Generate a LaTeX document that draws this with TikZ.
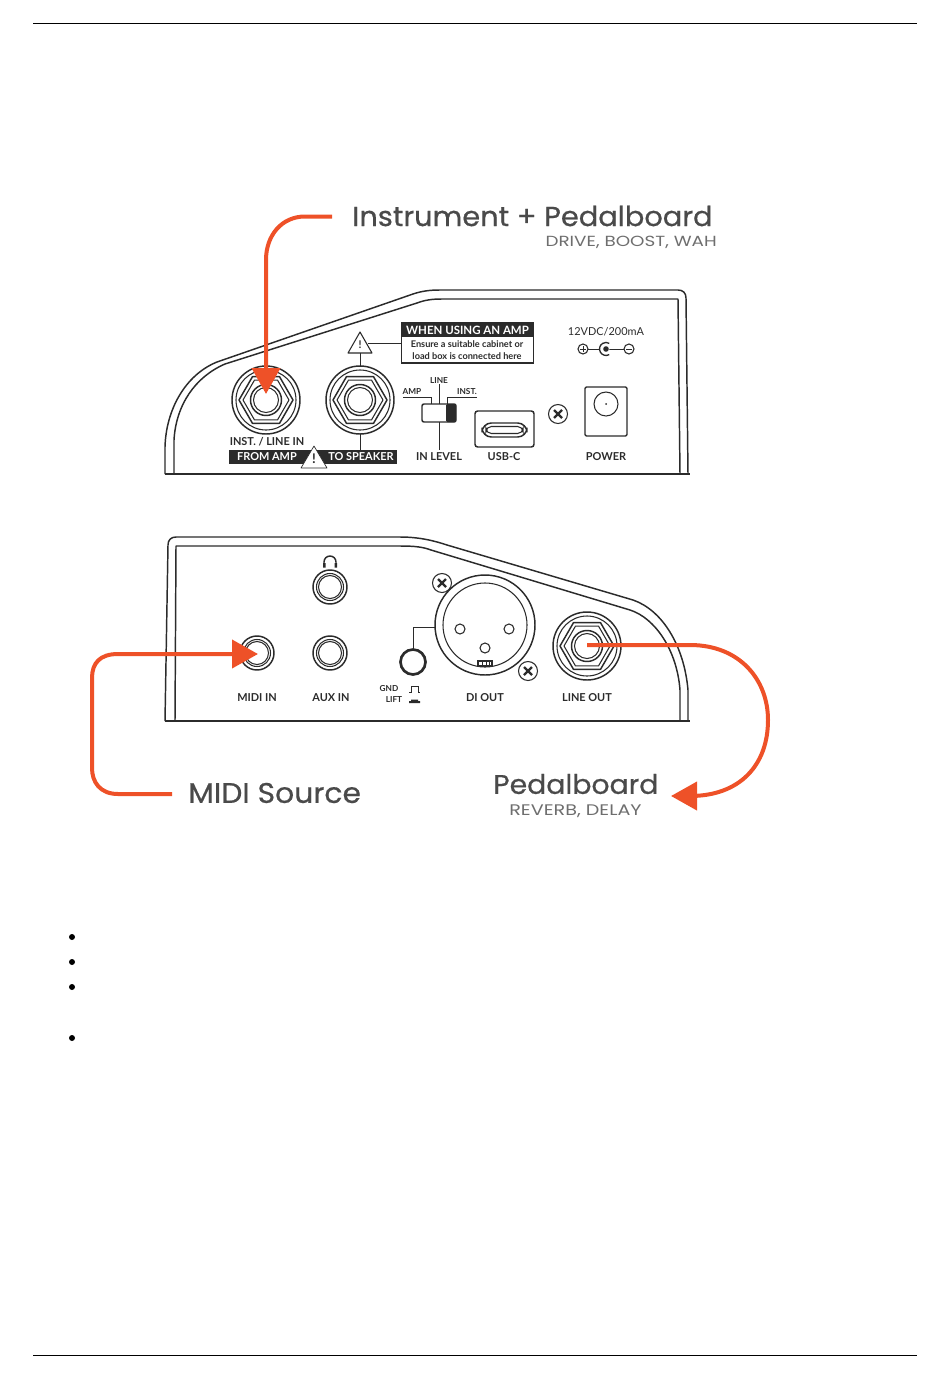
\documentclass[tikz,border=0pt]{standalone}
\usepackage{fontspec}
\usetikzlibrary{arrows.meta}
\setmainfont{Lato}
\newfontfamily\titlefont[FakeStretch=1.05,FakeBold=0.6]{Poppins}
\newfontfamily\subfont[FakeStretch=1.25]{Poppins}
\definecolor{ink}{HTML}{2B2B2B}
\definecolor{lab}{HTML}{4A4A4A}
\definecolor{sublab}{HTML}{6E6E6E}
\definecolor{org}{HTML}{EE5128}
\tikzset{
 x=0.75pt,y=-0.75pt,
 dev/.style={draw=ink,line width=1.1pt,line join=round},
 thin part/.style={draw=ink,line width=0.8pt},
 part/.style={draw=ink,line width=1.1pt},
 wire/.style={draw=ink,line width=0.7pt},
 plabel/.style={font=\fontsize{8.2}{9}\selectfont\bfseries,text=ink,inner sep=0pt},
 wlabel/.style={font=\fontsize{8.2}{9}\selectfont\bfseries,text=white,inner sep=0pt},
 tiny/.style={font=\fontsize{6.2}{7}\selectfont\bfseries,text=ink,inner sep=0pt},
 big/.style={text=lab,inner sep=0pt,anchor=west},
 sub/.style={text=sublab,inner sep=0pt},
 conn/.style={draw=org,line width=3pt,line join=round,-{Triangle[length=19.5pt,width=21pt]}},
 hexjack/.pic={
  \draw[part] (0,0) circle (34);
  \draw[thin part] (0,0) circle (30);
  \draw[part,line join=round] (0:27)--(60:27)--(120:27)--(180:27)--(240:27)--(300:27)--cycle;
  \draw[thin part,line join=round] (0:23)--(60:23)--(120:23)--(180:23)--(240:23)--(300:23)--cycle;
  \draw[part] (0,0) circle (15.5);
  \draw[thin part] (0,0) circle (12.5);
 },
 smalljack/.pic={
  \draw[part] (0,0) circle (17);
  \draw[thin part] (0,0) circle (13.5);
  \draw[thin part] (0,0) circle (11.5);
 },
 screw/.pic={
  \draw[thin part] (0,0) circle (9.5);
  \draw[draw=ink,line width=1.8pt] (-4,-4)--(4,4) (-4,4)--(4,-4);
 },
}
\begin{document}
\begin{tikzpicture}
\useasboundingbox (0,0) rectangle (950,1378);
\draw[line width=0.6pt,black] (33,23)--(917,23);
\draw[line width=0.6pt,black] (33,1355)--(917,1355);
\foreach \yy in {937,962,987,1038}{\fill[black] (72,\yy) circle (3);}

% ---- upper panel
\draw[dev] (165,474)--(165,447) .. controls (166,410) and (185,375) .. (217,362)
  --(413,294) .. controls (422,291) and (430,290) .. (440,290)--(678,290)
  .. controls (683,290) and (686,293) .. (686,298)--(688,474);
\draw[dev] (174,474)--(174,440) .. controls (176,405) and (195,377) .. (225,364)
  --(417,303) .. controls (425,300) and (432,299) .. (442,299)--(678,299)--(680,474);
\draw[dev] (165,474)--(690,474);

\pic at (266,400) {hexjack};
\pic at (360,400) {hexjack};
\coordinate (jackInTip) at (266,394);
% warning and note
\fill[white] (360,332)--(372,353)--(348,353)--cycle;
\draw[thin part,line join=round] (360,332)--(372,353)--(348,353)--cycle;
\node[font=\fontsize{8}{8}\selectfont\bfseries,text=ink,inner sep=0pt] (warnTop) at (360,345) {!};
\coordinate (warnBase) at (360,353);
\coordinate (warnRight) at (368,343);
\coordinate (jackTwoTop) at (360,366);
\coordinate (jackTwoBot) at (360,434);
\draw[wire] (warnBase)--(jackTwoTop);
\node[draw=ink,line width=0.8pt,minimum width=98.5pt,minimum height=30pt,inner sep=0pt] (noteBox) at (467.5,343) {};
\fill[ink] (401.5,323)--(533.5,323)--(533.5,337)--(401.5,337)--cycle;
\node[wlabel,font=\fontsize{8.6}{9}\selectfont\bfseries] (noteHead) at (467.5,330) {WHEN USING AN AMP};
\node[font=\fontsize{6.9}{7}\selectfont\bfseries,text=ink,inner sep=0pt] (noteA) at (467,344) {Ensure a suitable cabinet or};
\node[font=\fontsize{6.9}{7}\selectfont\bfseries,text=ink,inner sep=0pt] (noteB) at (467,356) {load box is connected here};
\draw[wire] (warnRight)--(noteBox.west);

\node[plabel] (instLabel) at (267,442) {INST. / LINE IN};
\fill[ink] (229,450) rectangle (397,464);
\draw[wire] (jackTwoBot)--(360,450);
\node[wlabel] (fromAmp) at (267,457) {FROM AMP};
\node[wlabel] (toSpeaker) at (361,457) {TO SPEAKER};
\fill[white] (314,446)--(327,468)--(301,468)--cycle;
\draw[thin part,line join=round,line width=0.5pt] (314,446)--(327,468)--(301,468)--cycle;
\node[font=\fontsize{10}{10}\selectfont\bfseries,text=ink,inner sep=0pt] (warnBar) at (314,459) {!};

% switch
\node[tiny] (lineSw) at (439,381) {LINE};
\node[tiny] (ampSw) at (412,392) {AMP};
\node[tiny] (instSw) at (467,392) {INST.};
\draw[wire] (lineSw.south)--(439,404);
\draw[wire] (403,397)--(431,397)--(431,404);
\draw[wire] (477,397)--(447,397)--(447,404);
\draw[part,rounded corners=1.5pt,fill=white] (422,404) rectangle (456,422);
\fill[ink,rounded corners=1pt] (446,404) rectangle (456,422);
\draw[wire] (439,422)--(439,450);
\node[plabel] (inLevel) at (439,457) {IN LEVEL};

% usb
\draw[part,rounded corners=2pt] (475,411) rectangle (534,447);
\draw[part,rounded corners=7pt] (482,423) rectangle (527,437);
\draw[thin part,rounded corners=4pt] (486,426.5) rectangle (523,433.5);
\node[plabel] (usbLabel) at (504,457) {USB-C};

\pic at (558,414) {screw};

% power
\node[plabel,font=\fontsize{8.2}{9}\selectfont] (voltLabel) at (606,332) {12VDC/200mA};
\draw[wire] (583,349)--(629,349);
\draw[thin part,fill=white] (583,349) circle (5);
\draw[wire] (580,349)--(586,349) (583,346)--(583,352);
\draw[thin part,fill=white] (629,349) circle (5);
\draw[wire] (626,349)--(632,349);
\draw[draw=ink,line width=1pt,fill=white] (609.25,354.6) arc (60:300:6.5);
\fill[ink] (606,349) circle (2.8);
\draw[part,rounded corners=1pt] (585,387) rectangle (627,436);
\draw[thin part] (606,404) circle (12);
\fill[ink] (606,404) circle (1);
\node[plabel] (powerLabel) at (606,457) {POWER};

% ---- lower panel
\draw[dev] (165,721)--(168,545) .. controls (168,540) and (171,537) .. (176,537)--(400,537)
  .. controls (420,537) and (435,541) .. (447,545)--(633,600)
  .. controls (662,610) and (684,645) .. (688,690)--(688,721);
\draw[dev] (175,721)--(176,546)--(400,546)
  .. controls (415,546) and (423,547) .. (431,550)--(630,610)
  .. controls (655,618) and (677,650) .. (680,690)--(680,721);
\draw[dev] (165,721)--(690,721);

% headphone icon
\draw[draw=ink,line width=1.1pt] (324,566) -- (324,562) arc (180:360:6) -- (336,566);
\fill[ink] (323,563) rectangle (325.5,567.5) (334.5,563) rectangle (337,567.5);
\pic at (330,587) {smalljack};
\pic at (257,653) {smalljack};
\pic at (330,653) {smalljack};
\coordinate (midiTip) at (258,654);
\node[plabel] (midiLabel) at (257,698) {MIDI IN};
\node[plabel] (auxLabel) at (331,698) {AUX IN};

% gnd lift
\draw[draw=ink,line width=2pt] (413,662) circle (12.5);
\draw[wire] (413,649.5)--(413,627)--(436,627);
\node[tiny] (gndLabel) at (389,689) {GND};
\node[tiny] (liftLabel) at (394,700) {LIFT};
\draw[draw=ink,line width=0.6pt] (409,692)--(411,692)--(411,686)--(418,686)--(418,692)--(420,692);
\fill[ink] (409,703) rectangle (420,701) (411,701) rectangle (418,699.5);

% xlr
\draw[part] (485,625) circle (50);
\draw[thin part] (485,625) circle (42);
\draw[thin part] (460,629) circle (5);
\draw[thin part] (509,629) circle (5);
\draw[thin part] (485,648) circle (5);
\draw[thin part] (478,661) rectangle (492,666);
\draw[wire] (482,661)--(482,666) (486,661)--(486,666) (489,661)--(489,666);
\pic at (442,583) {screw};
\pic at (528,671) {screw};
\node[plabel] (diLabel) at (485,698) {DI OUT};

\pic at (587,646) {hexjack};
\coordinate (lineOutStart) at (587,645);
\node[plabel] (lineOutLabel) at (587,698) {LINE OUT};

% ---- external labels
\node[big,font=\titlefont\fontsize{20.6}{22}\selectfont] (instrument) at (352,216) {Instrument + Pedalboard};
\node[sub,anchor=east,font=\subfont\fontsize{11}{12}\selectfont] (drive) at (717,242) {DRIVE, BOOST, WAH};
\node[big,font=\titlefont\fontsize{21.3}{22}\selectfont] (midiSource) at (188,793) {MIDI Source};
\node[big,font=\titlefont\fontsize{20.2}{22}\selectfont] (pedalboard) at (493,784) {Pedalboard};
\node[sub,font=\subfont\fontsize{11.5}{12}\selectfont] (reverb) at (575.5,811) {REVERB, DELAY};

\coordinate (armA) at (332,216.5);
\coordinate (armB) at (172,794);
\coordinate (armTip) at (671,796);

\draw[conn] (armA)--(305,216.5) .. controls (282,216.5) and (266,235) .. (266,260)--(jackInTip);
\draw[conn] (armB)--(118,794) .. controls (100,794) and (92,782) .. (92,768)--(92,678)
  .. controls (92,663) and (100,654) .. (118,654)--(midiTip);
\draw[conn] (lineOutStart)--(690,645) .. controls (740,645) and (768,680) .. (768,720)
  .. controls (768,765) and (740,796) .. (690,796)--(armTip);
\end{tikzpicture}
\end{document}
